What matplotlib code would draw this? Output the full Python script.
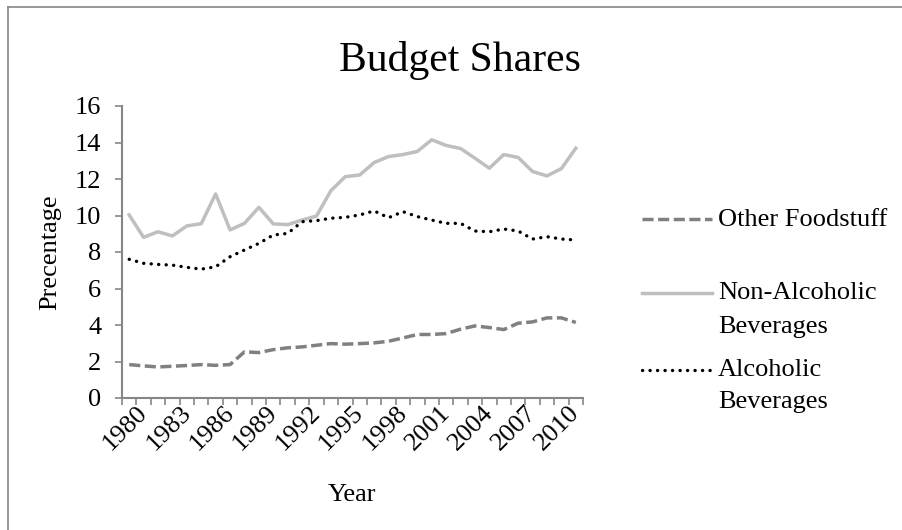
import numpy as np
import matplotlib
matplotlib.use("Agg")
import matplotlib.pyplot as plt
import matplotlib.transforms as mtransforms
from matplotlib.lines import Line2D

plt.rcParams['font.family'] = ['Liberation Serif', 'DejaVu Serif']

# Budget share data (percent), 1980-2011
years = list(range(1980, 2012))
other_foodstuff = [1.83, 1.76, 1.70, 1.74, 1.78, 1.83, 1.79, 1.83, 2.53, 2.49,
                   2.65, 2.75, 2.80, 2.89, 2.98, 2.95, 2.98, 3.02, 3.11, 3.29,
                   3.48, 3.48, 3.53, 3.77, 3.95, 3.86, 3.75, 4.10, 4.17, 4.39,
                   4.39, 4.14]
non_alcoholic = [10.03, 8.80, 9.11, 8.88, 9.43, 9.55, 11.18, 9.21, 9.57, 10.45,
                 9.54, 9.50, 9.75, 9.97, 11.36, 12.13, 12.22, 12.90, 13.23, 13.34,
                 13.51, 14.15, 13.84, 13.67, 13.14, 12.59, 13.34, 13.18, 12.41, 12.17,
                 12.57, 13.69]
alcoholic = [7.60, 7.38, 7.32, 7.28, 7.16, 7.06, 7.19, 7.74, 8.11, 8.47,
             8.93, 9.02, 9.66, 9.72, 9.85, 9.90, 10.03, 10.25, 9.88, 10.21,
             9.94, 9.75, 9.57, 9.57, 9.15, 9.11, 9.26, 9.15, 8.71, 8.84,
             8.71, 8.66]
series_labels = ['Other Foodstuff', 'Non-Alcoholic\nBeverages', 'Alcoholic\nBeverages']

W, H = 903, 530
AX_L, AX_R, AX_T, AX_B = 122, 583, 106, 398
fig = plt.figure(figsize=(W / 100, H / 100), dpi=100)
ax = fig.add_axes([AX_L / W, 1 - AX_B / H, (AX_R - AX_L) / W, (AX_B - AX_T) / H])

axis_gray = '#868686'
x = np.arange(len(years))

style_other = dict(color='#808080', lw=2.5, dashes=(3.2, 1.3), dash_capstyle='butt')
style_nonalc = dict(color='#BFBFBF', lw=2.5, solid_joinstyle='round')
style_alc = dict(color='black', lw=2.4, dashes=(0.05, 2.2), dash_capstyle='round')

ax.plot(x, other_foodstuff, **style_other)
ax.plot(x, non_alcoholic, **style_nonalc)
ax.plot(x, alcoholic, **style_alc)

ax.set_xlim(-0.5, len(years) - 0.5)
ax.set_ylim(0, 16)
ax.set_yticks(range(0, 17, 2))
ax.set_xticks(x[::3])
ax.set_xticklabels([str(y) for y in years[::3]], rotation=45, ha='right',
                   va='center', rotation_mode='anchor')
ax.set_xticks(np.arange(-0.5, len(years)), minor=True)
ax.tick_params(axis='x', which='major', length=0, pad=8, labelsize=19)
ax.tick_params(axis='x', which='minor', length=5, width=1.2, color=axis_gray)
ax.tick_params(axis='y', length=5, width=1.2, color=axis_gray, labelsize=19, pad=10)

# nudge rotated year labels right, as in the spreadsheet original
shift = mtransforms.ScaledTranslation(15 / 100, 0, fig.dpi_scale_trans)
for lbl in ax.get_xticklabels():
    lbl.set_transform(lbl.get_transform() + shift)

for s in ['top', 'right']:
    ax.spines[s].set_visible(False)
for s in ['left', 'bottom']:
    ax.spines[s].set_color(axis_gray)
    ax.spines[s].set_linewidth(1.5)

ax.set_xlabel('Year', fontsize=19, va='center')
ax.set_ylabel('Precentage', fontsize=19, va='center')
ax.xaxis.set_label_coords(0.5, -(495 - AX_B) / (AX_B - AX_T))
ax.yaxis.set_label_coords((50 - AX_L) / (AX_R - AX_L), 0.5)

fig.text(460 / W, 1 - 60 / H, 'Budget Shares', fontsize=30, ha='center', va='center')

# legend drawn by hand to match spacing
legend_rows = [(219, [220]), (293, [293, 327]), (370, [370, 402])]
styles = [style_other, style_nonalc, style_alc]
for (ly, text_ys), st, lab in zip(legend_rows, styles, series_labels):
    fig.add_artist(Line2D([642 / W, 712 / W], [1 - ly / H, 1 - ly / H], **st))
    for ty, part in zip(text_ys, lab.split('\n')):
        fig.text(718 / W, 1 - ty / H, part, fontsize=19, ha='left', va='center')

# chart-area frame (left and top edges visible)
fig.add_artist(Line2D([8 / W, 8 / W], [0, 1 - 7 / H], color=axis_gray, lw=1.2))
fig.add_artist(Line2D([8 / W, 1], [1 - 7 / H, 1 - 7 / H], color=axis_gray, lw=1.2))

fig.savefig('out.png', dpi=100)
